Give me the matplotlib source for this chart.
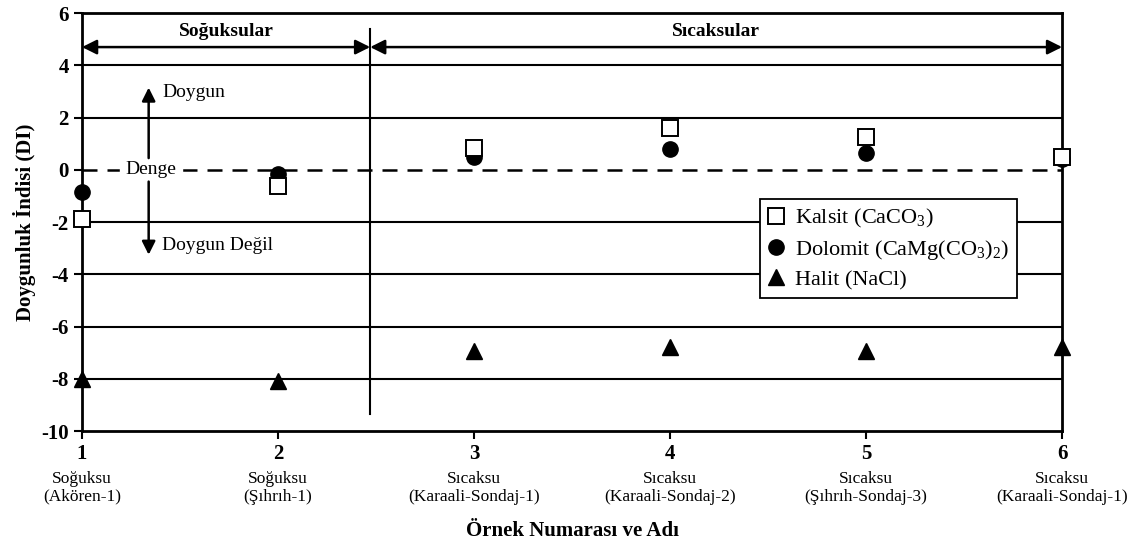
import matplotlib
matplotlib.use("Agg")
import matplotlib.pyplot as plt
from matplotlib.transforms import blended_transform_factory

plt.rcParams['font.family'] = ['Liberation Serif', 'DejaVu Serif']
plt.rcParams['mathtext.fontset'] = 'custom'
plt.rcParams['mathtext.rm'] = 'Liberation Serif'
plt.rcParams['axes.unicode_minus'] = False

ornek_no = [1, 2, 3, 4, 5, 6]
ornek_adi = ["Soğuksu\n(Akören-1)", "Soğuksu\n(Şıhrıh-1)", "Sıcaksu\n(Karaali-Sondaj-1)",
             "Sıcaksu\n(Karaali-Sondaj-2)", "Sıcaksu\n(Şıhrıh-Sondaj-3)", "Sıcaksu\n(Karaali-Sondaj-1)"]
kalsit = [-1.9, -0.6, 0.85, 1.6, 1.25, 0.5]
dolomit = [-0.85, -0.15, 0.5, 0.8, 0.65, 0.4]
halit = [-8.0, -8.1, -6.95, -6.8, -6.95, -6.8]
grid_y = [4, 2, -2, -4, -6, -8]
y_ticks = [6, 4, 2, 0, -2, -4, -6, -8, -10]
sinir_x = 2.47

fig = plt.figure(figsize=(11.44, 5.47), dpi=100)
ax = fig.add_axes([0.0717, 0.212, 0.8567, 0.764])
ax.set_xlim(1, 6)
ax.set_ylim(-10, 6)

for gy in grid_y:
    ax.axhline(gy, color='black', lw=1.5, zorder=1)
ax.axhline(0, color='black', lw=1.8, ls=(0, (6, 4)), zorder=1)

# group divider and arrows
ax.plot([sinir_x, sinir_x], [-9.35, 5.4], color='black', lw=1.5, zorder=1)
arr = dict(arrowstyle='<|-|>', color='black', lw=1.8, mutation_scale=22, shrinkA=0, shrinkB=0)
ax.annotate('', xy=(1, 4.7), xytext=(sinir_x, 4.7), arrowprops=arr)
ax.annotate('', xy=(sinir_x, 4.7), xytext=(6, 4.7), arrowprops=arr)
ax.text((1 + sinir_x) / 2, 5.3, 'Soğuksular', ha='center', va='center', fontsize=14, fontweight='bold')
ax.text((sinir_x + 6) / 2, 5.3, 'Sıcaksular', ha='center', va='center', fontsize=14, fontweight='bold')

# Denge annotation
ax.text(1.35, 0, 'Denge', ha='center', va='center', fontsize=14, backgroundcolor='white', zorder=2)
arr2 = dict(arrowstyle='-|>', color='black', lw=1.8, mutation_scale=20, shrinkA=0, shrinkB=0)
ax.annotate('', xy=(1.34, 3.15), xytext=(1.34, 0.45), arrowprops=arr2)
ax.annotate('', xy=(1.34, -3.25), xytext=(1.34, -0.45), arrowprops=arr2)
ax.text(1.41, 2.95, 'Doygun', ha='left', va='center', fontsize=14)
ax.text(1.41, -2.9, 'Doygun Değil', ha='left', va='center', fontsize=14)

ax.plot(ornek_no, kalsit, 's', ms=11, mfc='white', mec='black', mew=1.4, ls='none',
        label='Kalsit (CaCO$_3$)', clip_on=False, zorder=5)
ax.plot(ornek_no, dolomit, 'o', ms=11, color='black', ls='none',
        label='Dolomit (CaMg(CO$_3$)$_2$)', clip_on=False, zorder=4)
ax.plot(ornek_no, halit, '^', ms=12, color='black', ls='none',
        label='Halit (NaCl)', clip_on=False, zorder=4)

leg = ax.legend(loc='upper left', bbox_to_anchor=(0.692, 0.555), fontsize=16, frameon=True,
                fancybox=False, edgecolor='black', framealpha=1, handlelength=0.7,
                handletextpad=0.5, borderpad=0.35, labelspacing=0.35, borderaxespad=0)
leg.get_frame().set_linewidth(1.3)

for s in ax.spines.values():
    s.set_linewidth(2)
ax.set_yticks(y_ticks)
ax.set_xticks(ornek_no)
ax.tick_params(axis='both', direction='out', length=6, width=1.5, labelsize=15)
for lab in ax.get_xticklabels() + ax.get_yticklabels():
    lab.set_fontweight('bold')

trans = blended_transform_factory(ax.transData, ax.transAxes)
for x, adi in zip(ornek_no, ornek_adi):
    ax.text(x, -0.095, adi, transform=trans, ha='center', va='top', fontsize=12.5, linespacing=1.15)

ax.set_ylabel('Doygunluk İndisi (DI)', fontsize=15, fontweight='bold', labelpad=4)
ax.text(0.5, -0.215, 'Örnek Numarası ve Adı', transform=ax.transAxes, ha='center', va='top',
        fontsize=15, fontweight='bold')

fig.savefig('out.png', dpi=100)
